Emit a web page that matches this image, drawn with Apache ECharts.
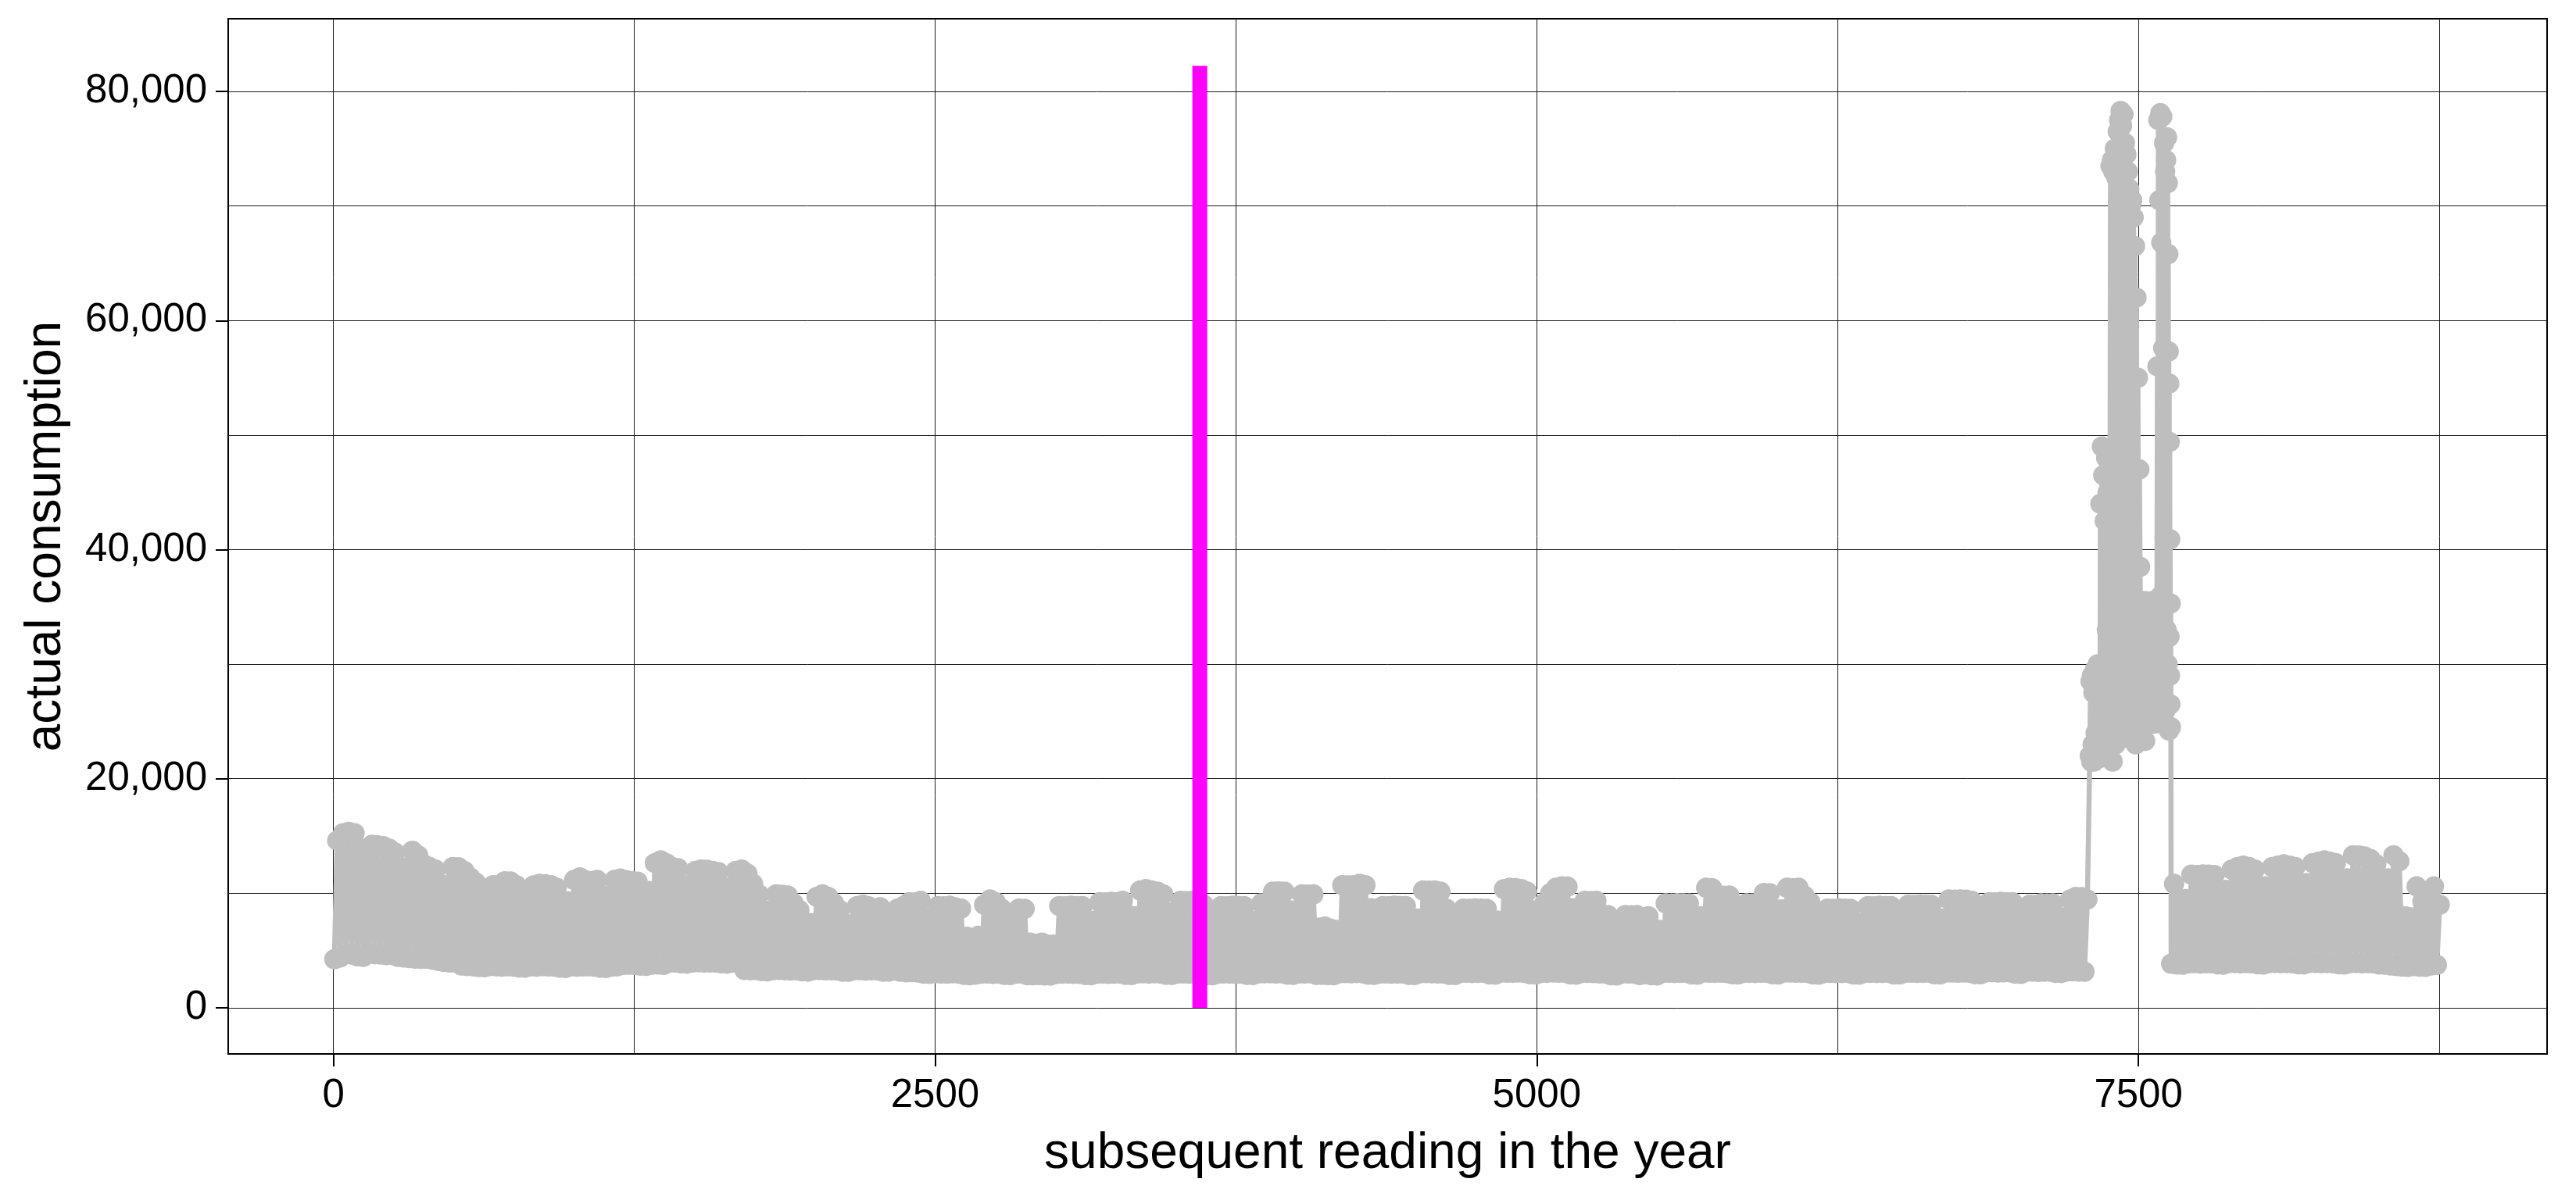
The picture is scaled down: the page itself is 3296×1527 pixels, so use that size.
<!DOCTYPE html>
<html>
<head>
<meta charset="utf-8">
<script src="https://cdn.jsdelivr.net/npm/echarts@6/dist/echarts.min.js"></script>
<style>
html,body{margin:0;padding:0;background:#ffffff;}
#chart{width:3296px;height:1527px;}
</style>
</head>
<body>
<div id="chart"></div>
<script>
// ---- data ----
// daily peak consumption per day of the year (null = days covered by the hourly spike detail)
const dayPeak = [
14600,15250,15370,15250,13900,13300,14230,14180,14120,13890,13550,12300,12200,13710,
13320,12530,12300,12070,10800,10700,12300,12280,11960,11390,10940,9600,9500,10710,
10680,11050,11030,10710,9400,9300,10690,10820,10800,10710,10480,9300,9300,11160,
11390,11140,11050,11160,9800,9700,11160,11280,11150,11050,11020,9800,10200,12640,
12870,12620,12300,12190,10700,10600,11960,12070,12050,11960,11850,10500,10500,11960,
12070,11730,10820,9910,8500,8400,9910,9880,9800,9120,8550,7300,7400,9690,
9910,9690,9120,8550,7300,7300,8890,9000,8870,8660,8780,7500,7400,8660,
8890,9230,9210,9345,7800,7700,8890,8860,8910,8780,8660,6200,6000,6300,
9000,9460,9230,8660,7400,7300,8660,8640,5700,5600,5700,5500,5500,8890,
8860,8910,8880,8890,7600,7600,9230,9200,9250,9230,9345,8100,8000,10250,
10370,10250,10140,9910,8300,8200,9345,9320,9345,9230,9000,7700,7600,8890,
8870,8910,8880,8890,7600,7600,9120,9100,10140,10160,10140,8500,8400,9910,
9890,9910,7000,7100,6900,6800,10710,10690,10710,10820,10710,8700,7700,8890,
8870,8910,8880,8890,7600,7800,10250,10230,10250,10140,8660,7400,7300,8660,
8640,8680,8660,8650,7400,7600,10370,10480,10460,10370,10140,8500,8000,9120,
10000,10480,10600,10580,8700,8200,9345,9320,9345,8100,8100,6900,6800,8100,
8080,8100,7000,8000,6900,6800,9120,9100,9140,9120,9110,7800,8000,10480,
10460,9800,9780,9800,8300,8000,9120,9100,9140,10030,10010,8600,8600,10480,
10460,10480,9800,9230,7800,7500,8660,8640,8680,8660,8650,7400,7400,8890,
8870,8910,8880,8890,7600,7600,9000,8980,9020,9000,8990,7700,7800,9460,
9440,9460,9450,9345,8000,7900,9230,9210,9250,9230,9220,7900,7700,9000,
8990,9120,9100,9120,7800,7900,9460,9690,9670,9460,
null,null,null,null,null,null,null,null,null,null,null,null,null,null,
10820,9300,9500,11620,11600,11640,11620,11600,10200,10300,12070,12300,12410,12300,
12070,10600,10600,12300,12410,12530,12410,12300,10800,10900,12640,12750,12870,12750,
12640,11100,11300,13320,13300,13210,13000,12530,11100,11300,13320,12800,8000,7900,
10600,9300,9200,10600,9000
];
// daily minimum (night) consumption per day of the year
const dayLow = [
4250,4400,4700,4650,4500,4450,4700,4680,4650,4600,4620,4450,4400,4350,
4300,4280,4300,4200,4100,4000,3950,3950,3700,3650,3620,3560,3550,3650,
3620,3600,3630,3600,3520,3500,3620,3600,3640,3610,3590,3500,3480,3620,
3600,3610,3630,3600,3500,3480,3600,3620,3750,3760,3740,3680,3660,3760,
3780,3750,3950,3960,3880,3860,3960,3980,3950,3960,3950,3880,3860,3960,
3950,3300,3280,3300,3200,3180,3290,3300,3280,3260,3280,3180,3160,3290,
3300,3270,3280,3250,3150,3150,3280,3290,3260,3280,3270,3150,3160,3250,
3150,3100,3120,3080,2980,2960,3020,3000,2980,3010,2990,2880,2850,2900,
2980,3000,2970,2990,2880,2860,2980,2990,2850,2840,2860,2830,2820,2960,
2980,2990,2970,2960,2870,2850,2980,2990,2970,2980,2990,2880,2860,3000,
3020,2990,3010,3000,2880,2870,2990,3000,2980,2990,2970,2860,2850,2980,
3000,2990,2970,2980,2870,2860,3000,3010,3020,3000,3010,2890,2880,3000,
2990,3010,2870,2880,2860,2850,3020,3030,3010,3040,3020,2900,2880,2990,
3000,2980,2990,3000,2870,2860,3020,3030,3010,3000,2990,2870,2860,3050,
3060,3040,3050,3060,2920,2900,3080,3070,3060,3080,3050,2930,2910,3050,
3060,3080,3070,3060,2920,2900,3040,3050,3030,3000,2990,2850,2830,2990,
3000,2980,2860,2950,2840,2830,3050,3060,3040,3050,3060,2920,2900,3080,
3070,3060,3070,3050,2930,2910,3050,3060,3040,3070,3060,2930,2920,3080,
3090,3070,3060,3050,2920,2900,3040,3050,3030,3040,3050,2910,2900,3050,
3060,3040,3050,3060,2920,2910,3060,3070,3050,3060,3070,2930,2920,3080,
3090,3070,3080,3060,2940,2930,3100,3110,3090,3100,3110,2980,2970,3150,
3160,3140,3150,3160,3050,3040,3170,3180,3160,3150,
null,null,null,null,null,null,null,null,null,null,null,null,null,null,
3850,3780,3760,3880,3900,3870,3890,3880,3790,3770,3900,3910,3890,3900,
3880,3800,3780,3900,3920,3900,3910,3890,3800,3790,3910,3920,3900,3910,
3890,3800,3780,3900,3910,3890,3900,3880,3780,3760,3700,3650,3600,3580,
3650,3600,3580,3700,3750
];
// detailed readings during the high-consumption episode (reading number / value)
const spikeReading = [
7298,7301,7304,7307,7310,7313,7316,7319,7322,7325,7328,7331,7334,7337,7340,
7342,7345,7348,7351,7354,7357,7360,7363,7366,7369,7372,7375,7378,7381,
7384,7387,7390,7393,7396,7399,7402,7405,7408,7411,7414,7417,7420,7423,7426,7429,7432,7435,7438,7441,
7444,7447,7450,7453,7456,7459,7462,7465,7468,7471,7474,7477,7480,7483,7486,7489,7492,7495,7498,7501,7504,
7507,7510,7513,7516,7519,7522,7525,7528,7531,7534,7537,7540,7543,7546,7549,7552,7555,7558,7561,7564,7567,7570,7573,7576,
7579,7581,7583,7585,7587,7589,7591,7593,7595,7597,7599,7601,7603,7605,7607,7609,7611,7613,7615,7617,7619,
7621,7622,7623,7624,7625,7626,7627,7628,7629,7630,7631,7632,7633,7634,7635
];
const spikeValue = [
22000,28500,21500,29000,23000,27500,21500,29500,24000,28000,22000,30000,23500,29000,21800,
44000,26000,49000,22500,46500,30000,42500,24000,48000,33000,45000,22000,40000,27000,
73500,25000,74000,21500,73000,30000,75000,23000,72500,26000,76500,24000,77500,35000,78300,25000,77000,30000,78000,24500,
75500,40000,74500,24000,73000,31000,71500,23500,70000,27000,70500,23500,69000,33000,66500,23000,62000,28000,55000,24000,47000,
38500,24000,35000,23500,35500,26000,34000,23300,35500,27000,33500,24800,35000,26500,34000,25000,35500,28000,33000,24800,35500,26000,34500,25000,
56000,26000,77500,30000,70500,25000,78100,36000,66800,24800,77800,29000,57600,25500,75500,41000,73000,26000,74000,33000,76000,
30000,72000,26500,65800,35300,57300,24200,54500,32400,49400,29000,40900,26500,35300,24500
];
// vertical marker
const markerReading = 3600;
const markerSpan = [0, 82236];
// axis ticks
const xTickLabels = [0, 2500, 5000, 7500];
const yTickLabels = [0, 20000, 40000, 60000, 80000];
const xTitle = 'subsequent reading in the year';
const yTitle = 'actual consumption';

// ---- build series ----
const HOURS = 24;
const points = [];
let spikeAdded = false;
for (let d = 0; d < dayPeak.length; d++) {
  if (dayPeak[d] == null) {
    if (!spikeAdded) {
      for (let i = 0; i < spikeReading.length; i++) points.push([spikeReading[i], spikeValue[i]]);
      spikeAdded = true;
    }
    continue;
  }
  points.push([d * HOURS + 4, dayLow[d]]);
  points.push([d * HOURS + 16, dayPeak[d]]);
}

const FONT = '"Liberation Sans", Arial, Helvetica, sans-serif';
const fmtComma = v => String(v).replace(/\B(?=(\d{3})+(?!\d))/g, ',');

const chart = echarts.init(document.getElementById('chart'), null, {renderer: 'canvas'});
chart.setOption({
  animation: false,
  backgroundColor: '#ffffff',
  textStyle: {fontFamily: FONT},
  grid: {
    left: 292, top: 24, right: 37, bottom: 178,
    show: true, borderColor: '#000000', borderWidth: 2,
    containLabel: false, outerBoundsMode: 'none'
  },
  xAxis: {
    type: 'value',
    min: -437, max: 9198,
    minInterval: 2500, maxInterval: 2500,
    name: xTitle, nameLocation: 'middle', nameGap: 96,
    nameTextStyle: {fontSize: 64, color: '#000000', fontFamily: FONT},
    axisLine: {show: false, onZero: false},
    axisTick: {show: true, length: 16, customValues: xTickLabels, lineStyle: {color: '#000000', width: 2}},
    axisLabel: {show: true, customValues: xTickLabels, fontSize: 51, color: '#000000', margin: 28, fontFamily: FONT,
      formatter: v => String(v)},
    splitLine: {show: true, lineStyle: {color: '#1a1a1a', width: 1}},
    minorTick: {show: false, splitNumber: 2},
    minorSplitLine: {show: true, lineStyle: {color: '#1a1a1a', width: 1}}
  },
  yAxis: {
    type: 'value',
    min: -4024, max: 86343,
    minInterval: 20000, maxInterval: 20000,
    name: yTitle, nameLocation: 'middle', nameGap: 201,
    nameTextStyle: {fontSize: 64, color: '#000000', fontFamily: FONT},
    axisLine: {show: false, onZero: false},
    axisTick: {show: true, length: 16, customValues: yTickLabels, lineStyle: {color: '#000000', width: 2}},
    axisLabel: {show: true, customValues: yTickLabels, fontSize: 51, color: '#000000', margin: 27, fontFamily: FONT,
      formatter: v => fmtComma(v)},
    splitLine: {show: true, lineStyle: {color: '#1a1a1a', width: 1}},
    minorTick: {show: false, splitNumber: 2},
    minorSplitLine: {show: true, lineStyle: {color: '#1a1a1a', width: 1}}
  },
  series: [
    {
      type: 'line',
      data: points,
      symbol: 'circle',
      symbolSize: 26,
      showSymbol: true,
      showAllSymbol: true,
      lineStyle: {color: '#BEBEBE', width: 6.5},
      itemStyle: {color: '#BEBEBE', borderWidth: 0},
      emphasis: {disabled: true},
      silent: true,
      z: 2
    },
    {
      type: 'line',
      data: [[markerReading, markerSpan[0]], [markerReading, markerSpan[1]]],
      symbol: 'none',
      lineStyle: {color: '#FF00FF', width: 19, cap: 'butt'},
      emphasis: {disabled: true},
      silent: true,
      z: 3
    }
  ]
});
</script>
</body>
</html>
